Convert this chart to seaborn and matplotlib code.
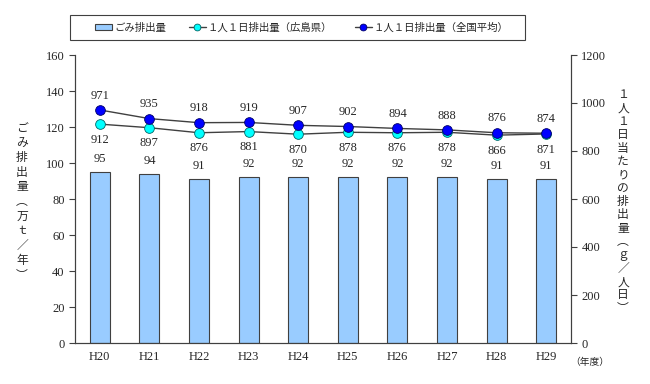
import matplotlib
matplotlib.use('Agg')
import matplotlib.pyplot as plt
from matplotlib.patches import Rectangle
import numpy as np
import seaborn as sns

years = ['H20', 'H21', 'H22', 'H23', 'H24', 'H25', 'H26', 'H27', 'H28', 'H29']
waste_total = [95, 94, 91, 92, 92, 92, 92, 92, 91, 91]          # 万t/年
per_capita_hiroshima = [912, 897, 876, 881, 870, 878, 876, 878, 866, 871]  # g/人日
per_capita_national = [971, 935, 918, 919, 907, 902, 894, 888, 876, 874]

sns.set_style('white')
plt.rcParams['font.family'] = ['Liberation Serif', 'Noto Sans CJK JP', 'DejaVu Sans']

fig = plt.figure(figsize=(6.5, 3.84), dpi=100)
ax = fig.add_axes([75 / 650, 1 - 343 / 384, 496 / 650, 288 / 384])
ax2 = ax.twinx()

x = np.arange(len(years))
sns.barplot(x=x, y=waste_total, ax=ax, color='#99CCFF', width=0.4,
            edgecolor='#404040', linewidth=0.8, saturation=1, label='ごみ排出量')
if ax.get_legend() is not None:
    ax.get_legend().remove()

sns.lineplot(x=x, y=per_capita_hiroshima, ax=ax2, color='#404040', linewidth=1,
             marker='o', markersize=7, markerfacecolor='#00FFFF',
             markeredgecolor='#006666', markeredgewidth=0.6,
             label='１人１日排出量（広島県）', legend=False)
sns.lineplot(x=x, y=per_capita_national, ax=ax2, color='#404040', linewidth=1,
             marker='o', markersize=7, markerfacecolor='#0000FF',
             markeredgecolor='#000066', markeredgewidth=0.6,
             label='１人１日排出量（全国平均）', legend=False)
if ax2.get_legend() is not None:
    ax2.get_legend().remove()

for i, v in enumerate(waste_total):
    ax.annotate(str(v), (i, v), xytext=(0, 5), textcoords='offset points',
                ha='center', va='bottom', fontsize=9)
for i, v in enumerate(per_capita_hiroshima):
    ax2.annotate(str(v), (i, v), xytext=(0, -7), textcoords='offset points',
                 ha='center', va='top', fontsize=9)
for i, v in enumerate(per_capita_national):
    ax2.annotate(str(v), (i, v), xytext=(0, 6), textcoords='offset points',
                 ha='center', va='bottom', fontsize=9)

ax.set_xlim(-0.5, 9.5)
ax.set_ylim(0, 160)
ax.set_yticks(range(0, 161, 20))
ax2.set_ylim(0, 1200)
ax2.set_yticks(range(0, 1201, 200))
ax.set_xticks(x)
ax.set_xticklabels(years)
ax.set_xticks(np.arange(-0.5, 9.6, 1), minor=True)
ax.tick_params(axis='x', which='major', length=0, labelsize=9, pad=6)
ax.tick_params(axis='x', which='minor', length=3, direction='in', color='#404040')
ax.tick_params(axis='y', length=4, direction='out', labelsize=9, color='#404040')
ax2.tick_params(axis='y', length=4, direction='out', labelsize=9, color='#404040')
ax.set_xlabel('')
ax.set_ylabel('')

for a in (ax, ax2):
    a.spines['top'].set_visible(False)
    for side in ['left', 'right', 'bottom']:
        a.spines[side].set_color('#404040')
        a.spines[side].set_linewidth(0.8)

left_label = '\n'.join(['ご', 'み', '排', '出', '量', '︵', '万', 'ｔ', '／', '年', '︶'])
fig.text(22 / 650, 1 - 202 / 384, left_label, ha='center', va='center',
         fontsize=8.5, linespacing=1.3)
right_label = '\n'.join(['１', '人', '１', '日', '当', 'た', 'り', 'の', '排', '出', '量',
                         '︵', 'ｇ', '／', '人', '日', '︶'])
fig.text(623 / 650, 1 - 202 / 384, right_label, ha='center', va='center',
         fontsize=8.5, linespacing=1.15)
fig.text(590 / 650, 1 - 362 / 384, '（年度）', ha='center', va='center', fontsize=7)

# legend box
fig.patches.append(Rectangle((70 / 650, 1 - 40 / 384), 455 / 650, 25 / 384,
                             transform=fig.transFigure, facecolor='white',
                             edgecolor='#404040', linewidth=0.8))
h1, l1 = ax.get_legend_handles_labels()
h2, l2 = ax2.get_legend_handles_labels()
fig.legend(h1 + h2, l1 + l2, ncol=3, loc='center',
           bbox_to_anchor=(302 / 650, 1 - 27.5 / 384), frameon=False,
           fontsize=7.5, handlelength=1.6, handleheight=0.5, markerscale=0.7,
           columnspacing=2.2, handletextpad=0.2, borderaxespad=0)

fig.savefig('out.png', dpi=100)
